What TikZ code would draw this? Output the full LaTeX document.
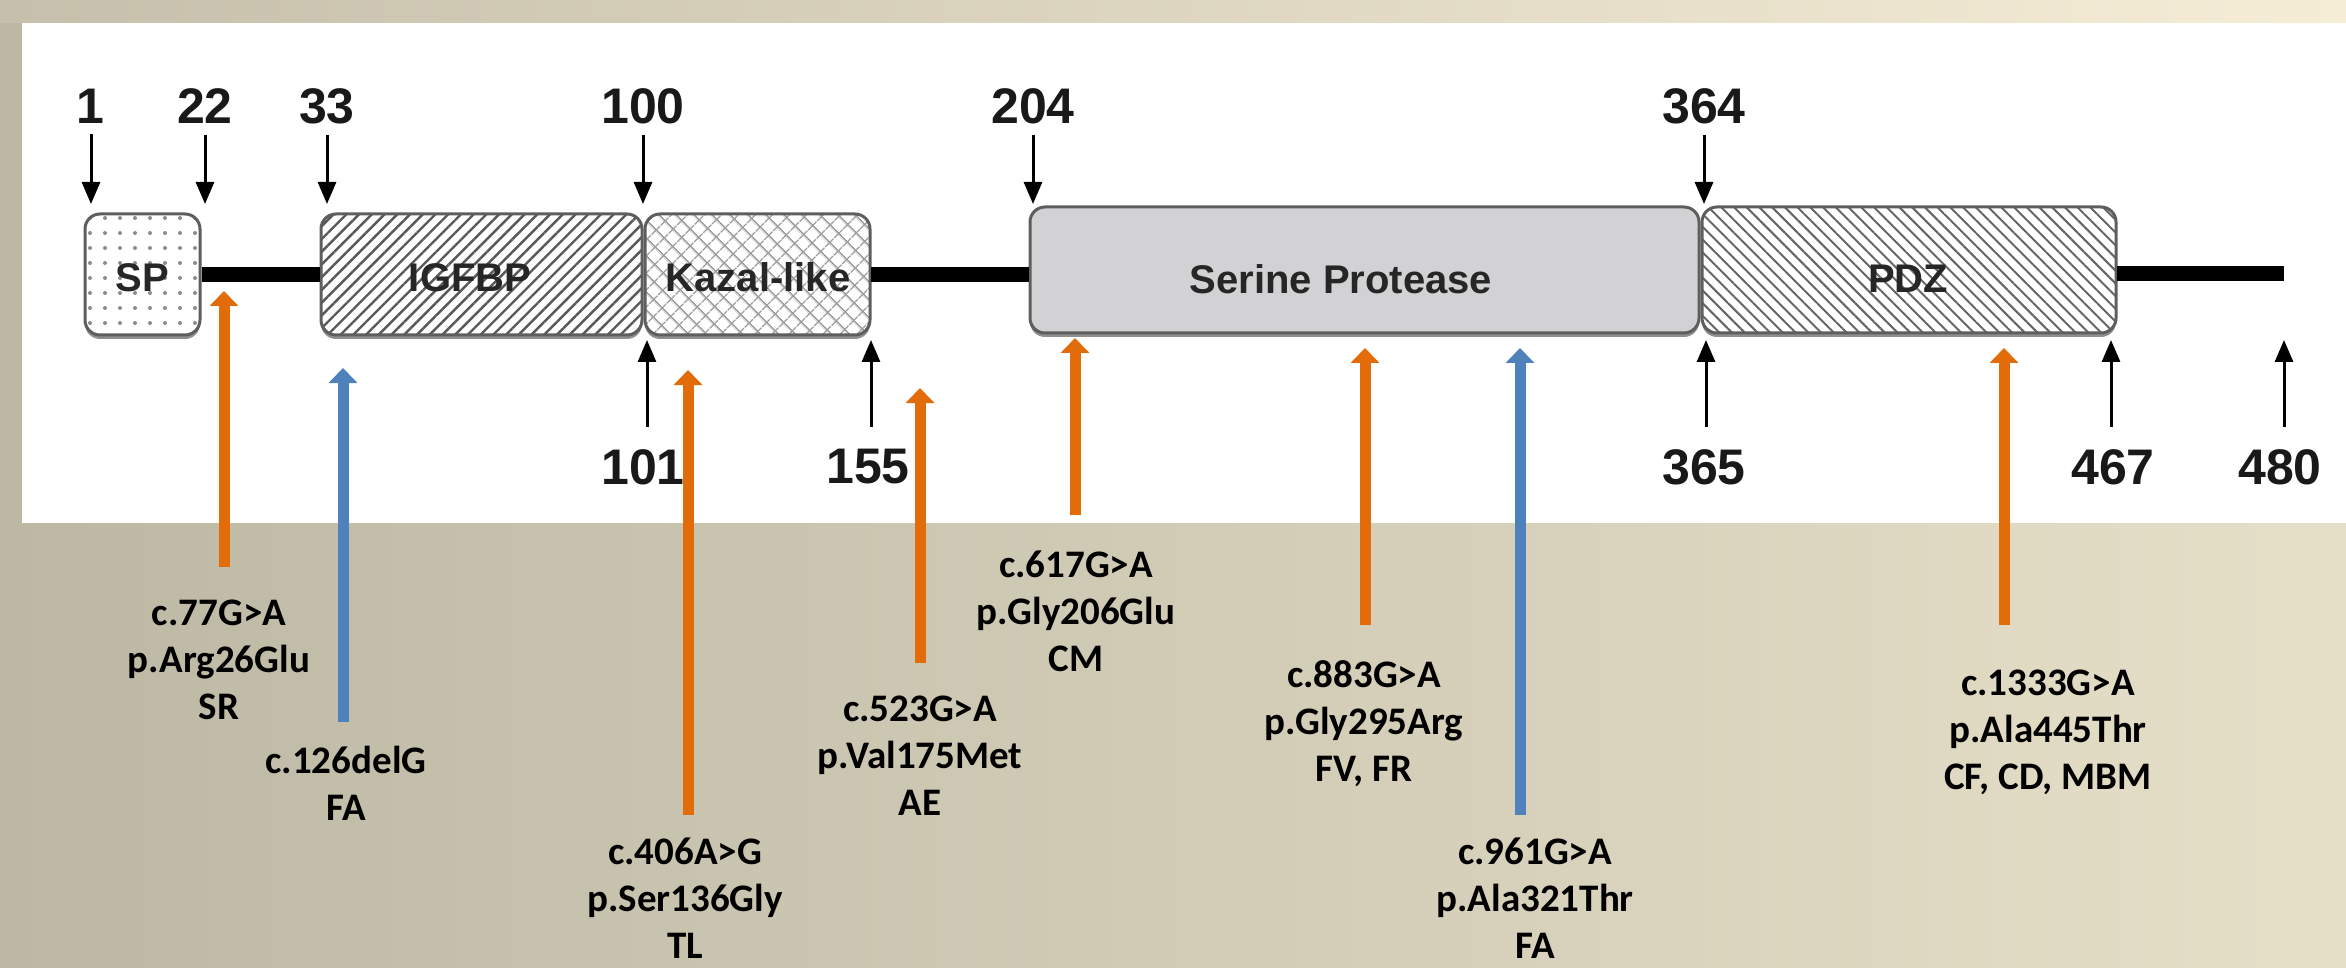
\documentclass[tikz,border=0pt]{standalone}
\usepackage{fontspec}
\setmainfont{Liberation Sans}
\newfontfamily\calfont{Carlito}
\usetikzlibrary{arrows.meta,patterns.meta,shadows}
\definecolor{orangeM}{HTML}{E36C0A}
\definecolor{blueM}{HTML}{4F81BD}
\definecolor{bgL}{HTML}{BCB8A4}
\definecolor{bgR}{HTML}{E6DFC8}
\definecolor{topL}{HTML}{C6BFAB}
\definecolor{topR}{HTML}{F5EDD6}
\definecolor{edge}{HTML}{5E5E5E}
\definecolor{serfill}{HTML}{D2D2D4}
\begin{document}
\begin{tikzpicture}[x=1pt,y=-1pt,
  num/.style={font=\bfseries\fontsize{50}{56}\selectfont, text=black!90, inner sep=0pt},
  dlabel/.style={font=\bfseries\fontsize{40}{46}\selectfont, text=black!85, inner sep=0pt},
  mut/.style={font=\calfont\bfseries\fontsize{39}{47}\selectfont, align=center, inner sep=0pt, anchor=north},
  dom/.style={draw=edge, line width=3pt, rounded corners=15pt, inner sep=0pt,
    drop shadow={shadow xshift=0pt, shadow yshift=-4pt, fill=black!55, opacity=0.8}},
  blackarr/.style={line width=3pt, -{Triangle[width=18pt,length=22pt]}},
  mutarr/.style={line width=11pt, -{Triangle[width=28pt,length=15pt]}},
  linker/.style={line width=15pt, black},
]
\useasboundingbox (0,0) rectangle (2346,968);
% background
\fill[left color=bgL, right color=bgR] (0,0) rectangle (2346,968);
\fill[left color=topL, right color=topR] (0,0) rectangle (2346,23);
\fill[white] (22,23) rectangle (2346,523);

% domains
\node[dom, minimum width=115pt, minimum height=121pt, preaction={fill=white},
  pattern={Dots[radius=2pt,distance=15pt]}, pattern color=gray!90] (sp) at (142.5,274.5) {};
\node[dom, minimum width=321pt, minimum height=121pt, preaction={fill=white},
  pattern={Lines[angle=45,distance=9pt,line width=2.4pt]}, pattern color=black!65] (igfbp) at (481.5,274.5) {};
\node[dom, minimum width=225pt, minimum height=121pt, preaction={fill=white},
  pattern={Hatch[angle=45,distance=13pt,line width=1.6pt]}, pattern color=gray!75] (kazal) at (757.5,274.5) {};
\node[dom, minimum width=669pt, minimum height=126pt, fill=serfill] (serine) at (1364.5,270) {};
\node[dom, minimum width=414pt, minimum height=126pt, preaction={fill=white},
  pattern={Lines[angle=-45,distance=9pt,line width=2pt]}, pattern color=black!60] (pdz) at (1909,270) {};

% linkers
\coordinate (cend) at (2284,274);
\draw[linker] (sp.east) -- (igfbp.west);
\draw[linker] (kazal.east) -- (kazal.east -| serine.west);
\draw[linker] (pdz.east |- cend) -- (cend);

% domain labels
\node[dlabel] (tsp) at (142,278) {SP};
\node[dlabel] (tigf) at (470,278) {IGFBP};
\node[dlabel] (tkaz) at (758,277) {Kazal-like};
\node[dlabel] (tser) at (1341,279) {Serine Protease};
\node[dlabel] (tpdz) at (1908,279) {PDZ};

% top numbers
\node[num] (n1) at (90,106) {1};
\node[num] (n22) at (205,106) {22};
\node[num] (n33) at (327,106) {33};
\node[num] (n100) at (643,106) {100};
\node[num] (n204) at (1033,106) {204};
\node[num] (n364) at (1704,106) {364};
\coordinate (a1) at (91,204);
\coordinate (a22) at (205,204);
\coordinate (a33) at (327,204);
\coordinate (a100) at (643,204);
\coordinate (a204) at (1033,204);
\coordinate (a364) at (1704,204);
\draw[blackarr, shorten <=11pt] (n1.south -| a1) -- (a1);
\draw[blackarr, shorten <=11pt] (n22.south -| a22) -- (a22);
\draw[blackarr, shorten <=11pt] (n33.south -| a33) -- (a33);
\draw[blackarr, shorten <=11pt] (n100.south -| a100) -- (a100);
\draw[blackarr, shorten <=11pt] (n204.south -| a204) -- (a204);
\draw[blackarr, shorten <=11pt] (n364.south -| a364) -- (a364);

% bottom numbers
\node[num] (n101) at (643,467) {101};
\node[num] (n155) at (868,467) {155};
\node[num] (n365) at (1704,467) {365};
\node[num] (n467) at (2113,467) {467};
\node[num] (n480) at (2280,467) {480};
\coordinate (b101) at (647,340);
\coordinate (b155) at (871,340);
\coordinate (b365) at (1706,340);
\coordinate (b467) at (2111,340);
\coordinate (b480) at (2284,340);
\draw[blackarr, shorten <=22pt] (n101.north -| b101) -- (b101);
\draw[blackarr, shorten <=22pt] (n155.north -| b155) -- (b155);
\draw[blackarr, shorten <=22pt] (n365.north -| b365) -- (b365);
\draw[blackarr, shorten <=22pt] (n467.north -| b467) -- (b467);
\draw[blackarr, shorten <=22pt] (n480.north -| b480) -- (b480);

% mutation labels
\node[mut] (m1) at (219,600) {c.77G>A\\p.Arg26Glu\\SR};
\node[mut] (m2) at (346,746) {c.126delG\\FA};
\node[mut] (m3) at (685,838) {c.406A>G\\p.Ser136Gly\\TL};
\node[mut] (m4) at (920,696) {c.523G>A\\p.Val175Met\\AE};
\node[mut] (m5) at (1076,551) {c.617G>A\\p.Gly206Glu\\CM};
\node[mut] (m6) at (1364,660) {c.883G>A\\p.Gly295Arg\\FV, FR};
\node[mut] (m7) at (1535,838) {c.961G>A\\p.Ala321Thr\\FA};
\node[mut] (m8) at (2048,670) {c.1333G>A\\p.Ala445Thr\\CF, CD, MBM};

% mutation arrows
\coordinate (m1t) at (224,291);  \coordinate (m1b) at (224,567);
\coordinate (m2t) at (343,368);  \coordinate (m2b) at (343,722);
\coordinate (m3t) at (688,370);  \coordinate (m3b) at (688,815);
\coordinate (m4t) at (920,388);  \coordinate (m4b) at (920,663);
\coordinate (m5t) at (1075,338); \coordinate (m5b) at (1075,515);
\coordinate (m6t) at (1365,348); \coordinate (m6b) at (1365,625);
\coordinate (m7t) at (1520,348); \coordinate (m7b) at (1520,815);
\coordinate (m8t) at (2004,348); \coordinate (m8b) at (2004,625);
\draw[mutarr, draw=orangeM] (m1b) -- (m1t);
\draw[mutarr, draw=blueM] (m2b) -- (m2t);
\draw[mutarr, draw=orangeM] (m3b) -- (m3t);
\draw[mutarr, draw=orangeM] (m4b) -- (m4t);
\draw[mutarr, draw=orangeM] (m5b) -- (m5t);
\draw[mutarr, draw=orangeM] (m6b) -- (m6t);
\draw[mutarr, draw=blueM] (m7b) -- (m7t);
\draw[mutarr, draw=orangeM] (m8b) -- (m8t);
\end{tikzpicture}
\end{document}
